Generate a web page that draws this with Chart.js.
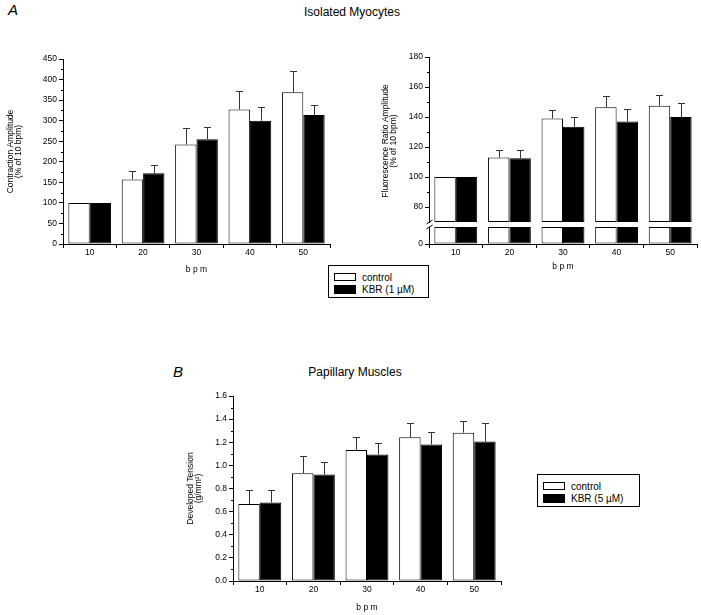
<!DOCTYPE html>
<html>
<head>
<meta charset="utf-8">
<script src="https://cdn.jsdelivr.net/npm/chart.js"></script>
<style>
  body { margin: 0; background: #fff; font-family: 'Liberation Sans', Arial, sans-serif; color: #000; }
  #page { position: relative; width: 701px; height: 615px; overflow: hidden; }
  canvas { position: absolute; }
  .panel { position: absolute; font-style: italic; font-size: 15px; line-height: 16px; }
  .title { position: absolute; font-size: 12px; line-height: 14px; white-space: nowrap; transform: translateX(-50%); }
  .legend { position: absolute; border: 1px solid #000; box-sizing: border-box; font-size: 10px; background: #fff; }
  .legend .row { position: absolute; left: 5px; height: 10px; display: flex; align-items: center; white-space: nowrap; }
  .legend .sw { width: 22px; height: 8px; border: 1px solid #000; box-sizing: border-box; margin-right: 6px; }
</style>
</head>
<body>
<div id="page">
  <div class="panel" style="left:8px;top:2px;">A</div>
  <div class="title" style="left:352px;top:5px;">Isolated Myocytes</div>
  <canvas id="c1" width="345" height="245" style="left:0;top:40px;"></canvas>
  <canvas id="c2" width="326" height="245" style="left:375px;top:40px;"></canvas>
  <div class="legend" id="leg1" style="left:328px;top:265px;width:101px;height:33px;"></div>

  <div class="panel" style="left:173px;top:364px;">B</div>
  <div class="title" style="left:355px;top:365px;">Papillary Muscles</div>
  <canvas id="c3" width="380" height="235" style="left:150px;top:380px;"></canvas>
  <div class="legend" id="leg2" style="left:537px;top:474px;width:103px;height:33px;"></div>
</div>
<script>
// stimulation rate (bpm)
const bpm = ['10', '20', '30', '40', '50'];

const seriesA = ['control', 'KBR (1 µM)'];
const seriesB = ['control', 'KBR (5 µM)'];

// A, left: contraction amplitude (% of 10 bpm)
const contractionCtrl = [100, 157, 242, 327, 369];
const contractionCtrlErr = [0, 20, 39, 45, 52];
const contractionKbr = [100, 172, 255, 300, 314];
const contractionKbrErr = [0, 20, 30, 34, 25];

// A, right: fluorescence ratio amplitude (% of 10 bpm)
const fluoCtrl = [100, 113, 139, 146.5, 147.5];
const fluoCtrlErr = [0, 5, 6, 7.5, 7.5];
const fluoKbr = [100, 112.5, 133.5, 137, 140];
const fluoKbrErr = [0, 5.5, 6.5, 8.5, 9.5];
// broken axis: lower segment 0..10, upper segment 68..180
const BREAK_LOW = 9;
const BREAK_HIGH = 70;

// B: developed tension (g/mm²)
const tensionCtrl = [0.665, 0.932, 1.134, 1.243, 1.283];
const tensionCtrlErr = [0.12, 0.15, 0.11, 0.12, 0.10];
const tensionKbr = [0.679, 0.921, 1.094, 1.18, 1.206];
const tensionKbrErr = [0.11, 0.11, 0.10, 0.11, 0.16];

const FILLS = ['#ffffff', '#000000'];
const AXIS_FONT = { size: 8.5 };

Chart.defaults.font.family = "'Liberation Sans', Arial, sans-serif";
Chart.defaults.color = '#000';

// error bars (upper half only) drawn on top of the bars
const errorBars = {
  id: 'errorBars',
  afterDatasetsDraw(chart) {
    const ctx = chart.ctx;
    chart.data.datasets.forEach((ds, i) => {
      if (!ds.errors) return;
      const meta = chart.getDatasetMeta(i);
      const yScale = chart.scales[meta.yAxisID];
      ctx.save();
      ctx.strokeStyle = '#333';
      ctx.lineWidth = 1;
      meta.data.forEach((bar, j) => {
        const e = ds.errors[j];
        if (!e) return;
        const x = Math.round(bar.x) + 0.5;
        const y0 = yScale.getPixelForValue(ds.means[j]);
        const y1 = Math.round(yScale.getPixelForValue(ds.means[j] + e)) + 0.5;
        ctx.beginPath();
        ctx.moveTo(x, y0);
        ctx.lineTo(x, y1);
        ctx.moveTo(x - 3.5, y1);
        ctx.lineTo(x + 3.5, y1);
        ctx.stroke();
      });
      ctx.restore();
    });
  }
};

// short unlabeled ticks half way between the labeled ones
const minorTicks = {
  id: 'minorTicks',
  afterDraw(chart) {
    const ctx = chart.ctx;
    Object.values(chart.scales).forEach(s => {
      if (s.axis !== 'y') return;
      const t = s.ticks;
      ctx.save();
      ctx.strokeStyle = '#000';
      ctx.lineWidth = 1;
      ctx.beginPath();
      for (let i = 0; i < t.length - 1; i++) {
        const y = Math.round(s.getPixelForValue((t[i].value + t[i + 1].value) / 2)) + 0.5;
        ctx.moveTo(s.right - 2, y);
        ctx.lineTo(s.right, y);
      }
      ctx.stroke();
      ctx.restore();
    });
  }
};

// "//" mark where the y axis is broken
const axisBreak = {
  id: 'axisBreak',
  afterDraw(chart, args, opts) {
    const low = chart.scales[opts.lowAxis];
    if (!low) return;
    const ctx = chart.ctx;
    const ax = Math.round(low.right - 0.5) + 0.5;
    const b = Math.round(low.top);
    ctx.save();
    ctx.fillStyle = '#fff';
    ctx.fillRect(ax - 4, b - 2, 8, 4);
    ctx.strokeStyle = '#000';
    ctx.lineWidth = 1;
    ctx.beginPath();
    ctx.moveTo(ax - 3, b - 1);
    ctx.lineTo(ax + 3, b - 5);
    ctx.moveTo(ax - 3, b + 4);
    ctx.lineTo(ax + 3, b);
    ctx.stroke();
    ctx.restore();
  }
};

function xAxis(height, titlePad) {
  return {
    grid: { drawOnChartArea: false, drawTicks: true, tickLength: 4, color: '#000', offset: true },
    border: { color: '#000', width: 1 },
    ticks: { color: '#000', font: AXIS_FONT, padding: 0, maxRotation: 0 },
    title: { display: true, text: 'b p m', color: '#000', font: AXIS_FONT, padding: { top: 0, bottom: titlePad } },
    afterFit: s => { s.height = height; }
  };
}

function yAxis(width, extra) {
  return Object.assign({
    grid: { drawOnChartArea: false, drawTicks: true, tickLength: 4, color: '#000' },
    border: { color: '#000', width: 1 },
    afterFit: s => { s.width = width; }
  }, extra);
}

function yTitle(lines, padTop) {
  return { display: true, text: lines, color: '#000', font: { size: 8.5, lineHeight: 1.0 }, padding: { top: padTop, bottom: 0 } };
}

function barSet(label, values, errors, i, extra) {
  return Object.assign({
    label: label,
    data: values,
    means: values,
    errors: errors,
    backgroundColor: FILLS[i],
    borderColor: '#000',
    borderWidth: 1,
    borderSkipped: false
  }, extra);
}

const commonOpts = {
  responsive: false,
  animation: false,
  datasets: { bar: { categoryPercentage: 0.8, barPercentage: 1 } }
};

function makeLegend(el, names) {
  names.forEach((name, i) => {
    const row = document.createElement('div');
    row.className = 'row';
    row.style.top = (6 + i * 12) + 'px';
    const sw = document.createElement('div');
    sw.className = 'sw';
    sw.style.background = FILLS[i];
    if (i === 1) sw.style.height = '9px';
    const txt = document.createElement('span');
    txt.textContent = name;
    row.appendChild(sw);
    row.appendChild(txt);
    el.appendChild(row);
  });
}

// ---- A, left ----
new Chart(document.getElementById('c1'), {
  type: 'bar',
  data: {
    labels: bpm,
    datasets: [
      barSet(seriesA[0], contractionCtrl, contractionCtrlErr, 0),
      barSet(seriesA[1], contractionKbr, contractionKbrErr, 1)
    ]
  },
  options: Object.assign({}, commonOpts, {
    layout: { padding: { top: 19, right: 15, left: 0, bottom: 0 } },
    plugins: { legend: { display: false }, tooltip: { enabled: false } },
    scales: {
      x: xAxis(41, 10),
      y: yAxis(63, {
        min: 0, max: 450,
        ticks: { stepSize: 50, color: '#000', font: AXIS_FONT, padding: 2 },
        title: yTitle(['Contraction Amplitude', '(% of 10 bpm)'], 6)
      })
    }
  }),
  plugins: [errorBars, minorTicks]
});

// ---- A, right (broken axis) ----
const clipLow = arr => arr.map(v => [0, Math.min(v, BREAK_LOW)]);
const fromBreak = arr => arr.map(v => [BREAK_HIGH, v]);

new Chart(document.getElementById('c2'), {
  type: 'bar',
  data: {
    labels: bpm,
    datasets: [
      barSet(seriesA[0], fromBreak(fluoCtrl), fluoCtrlErr, 0, { means: fluoCtrl, stack: 'c', yAxisID: 'y' }),
      barSet(seriesA[1], fromBreak(fluoKbr), fluoKbrErr, 1, { means: fluoKbr, stack: 'k', yAxisID: 'y' }),
      barSet(seriesA[0], clipLow(fluoCtrl), null, 0, { stack: 'c', yAxisID: 'yLow' }),
      barSet(seriesA[1], clipLow(fluoKbr), null, 1, { stack: 'k', yAxisID: 'yLow' })
    ]
  },
  options: Object.assign({}, commonOpts, {
    layout: { padding: { top: 17, right: 4, left: 0, bottom: 0 } },
    plugins: { legend: { display: false }, tooltip: { enabled: false }, axisBreak: { lowAxis: 'yLow' } },
    scales: {
      x: xAxis(41, 13),
      // stacked scales are placed bottom-up, so the lower segment comes first
      yLow: yAxis(54, {
        position: 'left', stack: 'fluo', stackWeight: 19, stacked: false,
        min: 0, max: 10,
        ticks: { stepSize: 10, color: '#000', font: AXIS_FONT, padding: 2 },
        afterBuildTicks: s => { s.ticks = s.ticks.filter(t => t.value === 0); }
      }),
      y: yAxis(54, {
        position: 'left', stack: 'fluo', stackWeight: 168, stacked: false,
        min: 68, max: 180,
        ticks: { stepSize: 20, color: '#000', font: AXIS_FONT, padding: 2 },
        afterBuildTicks: s => { s.ticks = s.ticks.filter(t => t.value % 20 === 0); },
        title: yTitle(['Fluorescence Ratio Amplitude', '(% of 10 bpm)'], 6)
      })
    }
  }),
  plugins: [errorBars, minorTicks, axisBreak]
});
makeLegend(document.getElementById('leg1'), seriesA);

// ---- B ----
new Chart(document.getElementById('c3'), {
  type: 'bar',
  data: {
    labels: bpm,
    datasets: [
      barSet(seriesB[0], tensionCtrl, tensionCtrlErr, 0),
      barSet(seriesB[1], tensionKbr, tensionKbrErr, 1)
    ]
  },
  options: Object.assign({}, commonOpts, {
    layout: { padding: { top: 16, right: 29, left: 0, bottom: 0 } },
    plugins: { legend: { display: false }, tooltip: { enabled: false } },
    scales: {
      x: xAxis(34, 2),
      y: yAxis(83, {
        min: 0, max: 1.6,
        ticks: { stepSize: 0.2, color: '#000', font: AXIS_FONT, padding: 2, callback: v => Number(v).toFixed(1) },
        title: yTitle(['Developed Tension', '(g/mm²)'], 36)
      })
    }
  }),
  plugins: [errorBars, minorTicks]
});
makeLegend(document.getElementById('leg2'), seriesB);
</script>
</body>
</html>
